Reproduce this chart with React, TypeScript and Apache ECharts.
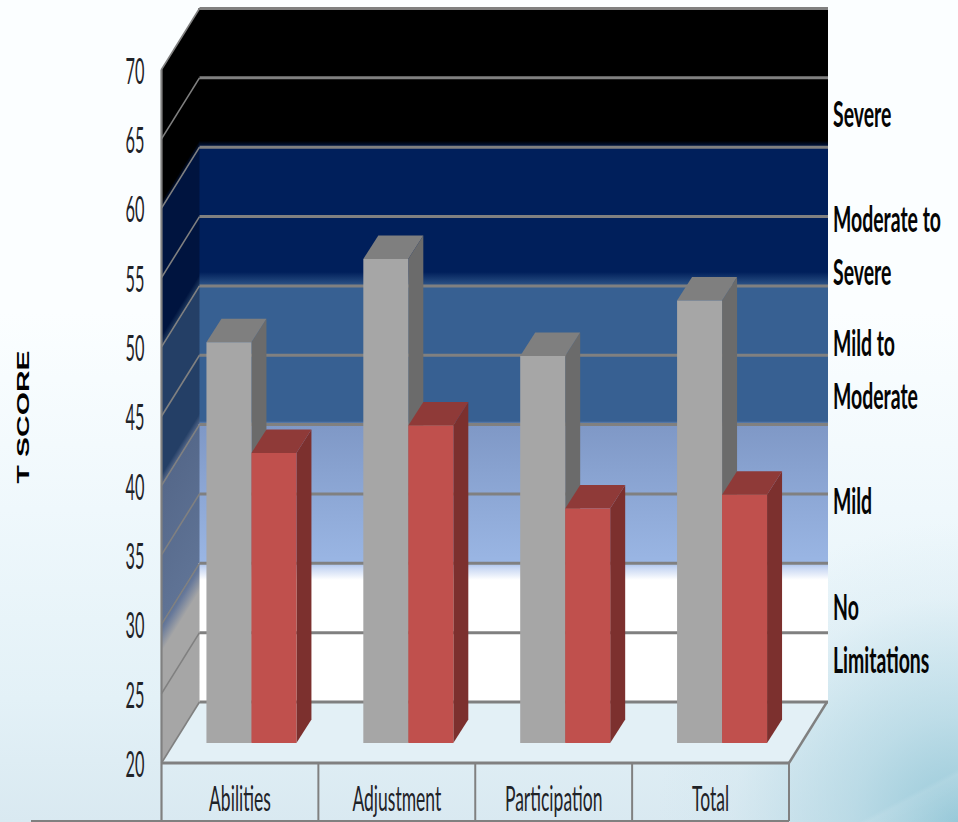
import React, { useEffect, useRef } from "react";
import * as echarts from "echarts";

// T score chart drawn as a pseudo-3D column chart with severity bands on the walls.
const categories = ["Abilities", "Adjustment", "Participation", "Total"];
const seriesGray = [48.9, 54.9, 47.9, 51.9];
const seriesRed = [40.9, 42.9, 36.9, 37.9];
const tickValues = [20, 25, 30, 35, 40, 45, 50, 55, 60, 65, 70];
const bandLower = [60, 50, 40, 30, 20];
const bandUpper = [70, 60, 50, 40, 30];
const bandLabelLines = [
  ["Severe"],
  ["Moderate to", "Severe"],
  ["Mild to", "Moderate"],
  ["Mild"],
  ["No", "Limitations"],
];
const axisTitle = "T SCORE";

// Page geometry of the front plane and the depth offset of the back wall
const GRID = { left: 161.5, top: 69.5, width: 627.5, height: 693.5 };
const DEPTH_X = 38;
const DEPTH_Y = 61;
const BAR_SHIFT_X = 11.5;
const BAR_SHIFT_Y = 20;
const BAR_DEPTH_X = 15;
const BAR_DEPTH_Y = 23.5;
const BAR_RATIO = 45 / 156.9;
const BOX_BOTTOM = 821;
const LINE = "#808080";

const backStops: [number, string][][] = [
  [[0, "#000000"], [0.955, "#000000"], [1, "#001a50"]],
  [[0, "#001f5b"], [0.9, "#001f5b"], [1, "#2f5689"]],
  [[0, "#376092"], [0.975, "#376092"], [1, "#7f98c6"]],
  [[0, "#7f98c6"], [1, "#9ab6e4"]],
  [[0, "#a8c0ea"], [0.03, "#c5d5f2"], [0.12, "#ffffff"], [1, "#ffffff"]],
];
const sideStops: [number, string][][] = [
  [[0, "#000000"], [0.95, "#000000"], [1, "#00143f"]],
  [[0, "#00143f"], [0.92, "#00143f"], [1, "#1f3a60"]],
  [[0, "#243f66"], [0.92, "#243f66"], [1, "#55688a"]],
  [[0, "#55688a"], [1, "#5f7395"]],
  [[0, "#5f7395"], [0.04, "#66789a"], [0.2, "#a6a6a6"], [1, "#a6a6a6"]],
];

const grayFaces = { front: "#a6a6a6", side: "#6b6b6b", top: "#7f7f7f" };
const redFaces = { front: "#c0504d", side: "#7c302e", top: "#8f3a38" };

const stops = (list: [number, string][]) => list.map(([offset, color]) => ({ offset, color }));

// Stretched text: the source type is a tall, condensed humanist face
const tallText = (
  text: string,
  x: number,
  y: number,
  align: string,
  sx: number,
  sy: number,
  weight = "normal",
  color = "#1f2328"
) => ({
  type: "text",
  x,
  y,
  scaleX: sx,
  scaleY: sy,
  silent: true,
  style: {
    text,
    fill: color,
    font: `${weight} 24px Lato`,
    textAlign: align,
    textVerticalAlign: "middle",
  },
});

const renderWalls = (params: any, api: any) => {
  const i = params.dataIndex;
  const lo = api.value(0);
  const hi = api.value(1);
  const cs = params.coordSys;
  const yHi = api.coord([0, hi])[1];
  const yLo = api.coord([0, lo])[1];
  const x0 = cs.x;
  const xB = cs.x + DEPTH_X;
  const len = Math.hypot(DEPTH_X, DEPTH_Y);
  const nx = DEPTH_Y / len;
  const ny = DEPTH_X / len;
  const h = yLo - yHi;
  const sideFill = new echarts.graphic.LinearGradient(
    x0,
    yHi,
    x0 + nx * h * ny,
    yHi + ny * h * ny,
    stops(sideStops[i]),
    true
  );
  return {
    type: "group",
    children: [
      {
        // The rect runs slightly under the side wall so the corner leaves no seam
        type: "rect",
        shape: { x: xB - 1.5, y: yHi - DEPTH_Y, width: cs.width + 2.5, height: h },
        style: { fill: new echarts.graphic.LinearGradient(0, 0, 0, 1, stops(backStops[i])) },
      },
      {
        type: "polygon",
        shape: {
          points: [
            [x0, yHi],
            [xB, yHi - DEPTH_Y],
            [xB, yLo - DEPTH_Y],
            [x0, yLo],
          ],
        },
        style: { fill: sideFill },
      },
    ],
  };
};

const renderFloor = (params: any) => {
  const cs = params.coordSys;
  const yF = cs.y + cs.height;
  const xR = cs.x + cs.width;
  return {
    type: "polygon",
    shape: {
      points: [
        [cs.x, yF],
        [cs.x + DEPTH_X, yF - DEPTH_Y],
        [xR + DEPTH_X, yF - DEPTH_Y],
        [xR, yF],
      ],
    },
    style: { fill: "#e3f0f6" },
  };
};

const renderGridLine = (params: any, api: any) => {
  const cs = params.coordSys;
  const y = api.coord([0, api.value(0)])[1];
  const xB = cs.x + DEPTH_X;
  return {
    type: "group",
    children: [
      {
        type: "line",
        shape: { x1: xB, y1: y - DEPTH_Y, x2: xB + cs.width + 1, y2: y - DEPTH_Y },
        style: { stroke: LINE, lineWidth: 3 },
      },
      {
        type: "line",
        shape: { x1: cs.x, y1: y, x2: xB, y2: y - DEPTH_Y },
        style: { stroke: LINE, lineWidth: 1.6 },
      },
    ],
  };
};

const renderFrame = (params: any, api: any) => {
  const cs = params.coordSys;
  const yF = cs.y + cs.height;
  const xR = cs.x + cs.width;
  const stroke = (x1: number, y1: number, x2: number, y2: number, lineWidth: number) => ({
    type: "line",
    shape: { x1, y1, x2, y2 },
    style: { stroke: LINE, lineWidth },
  });
  const step = api.size([1, 0])[0];
  const dividers = categories.map((_, k) => stroke(cs.x + step * (k + 1), yF, cs.x + step * (k + 1), BOX_BOTTOM, 2));
  return {
    type: "group",
    children: [
      stroke(cs.x, cs.y, cs.x, BOX_BOTTOM, 2.2),
      stroke(cs.x, yF, xR, yF, 3),
      stroke(xR, yF, xR + DEPTH_X, yF - DEPTH_Y, 2.4),
      stroke(31, BOX_BOTTOM, xR, BOX_BOTTOM, 2),
      ...dividers,
    ],
  };
};

const renderBar = (faces: any, side: number) => (_: any, api: any) => {
  const i = api.value(0);
  const v = api.value(1);
  const [cx, yVal] = api.coord([i, v]);
  const yZero = api.coord([i, 20])[1];
  const w = api.size([1, 0])[0] * BAR_RATIO;
  const x1 = cx + BAR_SHIFT_X + (side < 0 ? -w : 0);
  const x2 = x1 + w;
  const yT = yVal - BAR_SHIFT_Y;
  const yB = yZero - BAR_SHIFT_Y;
  return {
    type: "group",
    children: [
      {
        type: "polygon",
        shape: {
          points: [
            [x2, yT],
            [x2 + BAR_DEPTH_X, yT - BAR_DEPTH_Y],
            [x2 + BAR_DEPTH_X, yB - BAR_DEPTH_Y],
            [x2, yB],
          ],
        },
        style: { fill: faces.side },
      },
      {
        type: "polygon",
        shape: {
          points: [
            [x1, yT],
            [x1 + BAR_DEPTH_X, yT - BAR_DEPTH_Y],
            [x2 + BAR_DEPTH_X, yT - BAR_DEPTH_Y],
            [x2, yT],
          ],
        },
        style: { fill: faces.top },
      },
      {
        type: "rect",
        shape: { x: x1, y: yT, width: w, height: yB - yT },
        style: { fill: faces.front },
      },
    ],
  };
};

const renderTick = (params: any, api: any) => {
  const v = api.value(0);
  const y = api.coord([0, v])[1];
  return tallText(String(v), params.coordSys.x - 17, y, "right", 0.68, 1.5);
};

const renderCategory = (_: any, api: any) => {
  const i = api.value(0);
  const x = api.coord([i, 20])[0];
  return tallText(categories[i], x, 797.5, "center", 0.73, 1.45);
};

// Pixel anchors of the band captions, one per drawn line
const bandLabelY = [[113], [218, 271], [342, 395], [500], [606, 659]];

export default function App() {
  const ref = useRef<HTMLDivElement>(null);

  useEffect(() => {
    const chart = echarts.init(ref.current!, undefined, { renderer: "svg" });
    const custom = (name: string, data: any[], renderItem: any, z: number) => ({
      type: "custom",
      name,
      data,
      renderItem,
      z,
      silent: true,
      clip: false,
      encode: { x: 0, y: 1 },
    });
    chart.setOption({
      animation: false,
      tooltip: { show: false },
      legend: { show: false },
      grid: { ...GRID },
      xAxis: {
        type: "category",
        data: categories,
        axisLine: { show: false },
        axisTick: { show: false },
        axisLabel: { show: false },
      },
      yAxis: {
        type: "value",
        min: 20,
        max: 70,
        interval: 5,
        axisLine: { show: false },
        axisTick: { show: false },
        axisLabel: { show: false },
        splitLine: { show: false },
      },
      series: [
        { ...custom("bands", bandLower.map((lo, k) => [lo, bandUpper[k]]), renderWalls, 1), encode: { y: [0, 1] } },
        custom("floor", [[0, 20]], renderFloor, 2),
        { ...custom("gridlines", tickValues.map((v) => [v]), renderGridLine, 3), encode: { y: 0 } },
        custom("frame", [[0, 20]], renderFrame, 4),
        custom("Series 1", seriesGray.map((v, i) => [i, v]), renderBar(grayFaces, -1), 5),
        custom("Series 2", seriesRed.map((v, i) => [i, v]), renderBar(redFaces, 1), 6),
        { ...custom("ticks", tickValues.map((v) => [v]), renderTick, 7), encode: { y: 0 } },
        custom("categories", categories.map((_, i) => [i, 20]), renderCategory, 7),
      ],
      graphic: [
        ...bandLabelLines.flatMap((lines, k) =>
          lines.map((line, j) => ({
            ...tallText(line, 833, bandLabelY[k][j], "left", 0.81, 1.55, "bold", "#050505"),
          }))
        ),
        {
          type: "text",
          x: 23,
          y: 417,
          rotation: Math.PI / 2,
          scaleX: 1.76,
          scaleY: 1,
          style: {
            text: axisTitle,
            fill: "#000000",
            font: "bold 17px 'Liberation Sans'",
            textAlign: "center",
            textVerticalAlign: "middle",
          },
        },
      ],
    });
    return () => chart.dispose();
  }, []);

  const background = [
    "linear-gradient(152deg, rgba(255,255,255,0) 0, rgba(255,255,255,0) 96%, rgba(255,255,255,0.1) 96.4%, rgba(255,255,255,0) 100%)",
    "radial-gradient(circle 300px at 100% 100%, rgba(140,195,212,0.85) 0, rgba(165,208,222,0.6) 35%, rgba(200,225,235,0.2) 75%, rgba(200,225,235,0) 100%)",
    "linear-gradient(180deg, #fbfeff 0, #fbfeff 38%, #eff8fc 62%, #e3f1f7 85%, #d9e9f1 100%)",
  ].join(",");

  return (
    <div style={{ position: "absolute", left: 0, top: 0, width: 958, height: 822, overflow: "hidden", background }}>
      <div ref={ref} style={{ width: 958, height: 822 }} />
    </div>
  );
}
